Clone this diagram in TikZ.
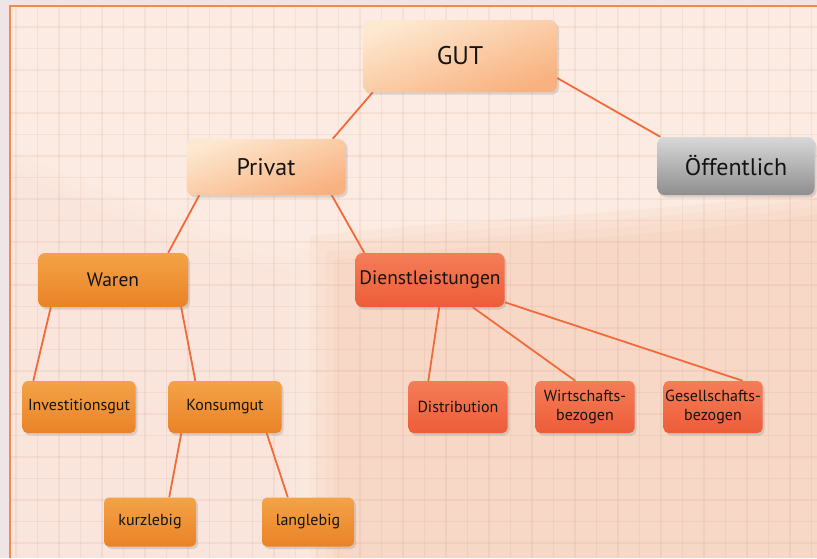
\documentclass[tikz,border=0pt]{standalone}
\usepackage{fontspec}
\setmainfont{PT Sans}
\usetikzlibrary{shadows, backgrounds}
\definecolor{gtframe}{HTML}{F5894A}
\definecolor{gtstrip}{HTML}{EFE4E6}
\definecolor{gtpaper}{HTML}{FCEBE2}
\definecolor{gtshade}{HTML}{F5C8AE}
\definecolor{gtgrid}{HTML}{B0603A}
\definecolor{gtline}{HTML}{F26A3A}
\definecolor{gtpeachA}{HTML}{FDE8D0}
\definecolor{gtpeachB}{HTML}{F9B17F}
\definecolor{gtgrayA}{HTML}{D8D8D8}
\definecolor{gtgrayB}{HTML}{8E8E8E}
\definecolor{gtorangeA}{HTML}{F3A347}
\definecolor{gtorangeB}{HTML}{EA8227}
\definecolor{gtredA}{HTML}{F47D58}
\definecolor{gtredB}{HTML}{EE5C38}
\definecolor{gttext}{HTML}{141414}

\begin{document}
\begin{tikzpicture}[
  x=1pt, y=-1pt,
  every node/.style={text=gttext},
  box/.style={rectangle, rounded corners=7pt, inner sep=0pt, align=center,
    drop shadow={shadow xshift=2pt, shadow yshift=-2.5pt, opacity=0.25}},
  peach/.style={box, top color=gtpeachA, bottom color=gtpeachB, shading angle=20},
  grey/.style={box, top color=gtgrayA, bottom color=gtgrayB},
  orange/.style={box, top color=gtorangeA, bottom color=gtorangeB},
  red/.style={box, top color=gtredA, bottom color=gtredB},
  small/.style={rounded corners=5pt, font=\fontsize{16}{18.5}\selectfont},
  link/.style={draw=gtline, line width=1.8pt},
  gridline/.style={draw=gtgrid, draw opacity=0.08, line width=1.1pt},
]
\useasboundingbox (0,0) rectangle (817,558);

% Paper and grid
\begin{scope}[on background layer]
\fill[gtstrip] (0,0) rectangle (817,558);
\fill[gtpaper] (10,6) rectangle (817,558);
\foreach \d in {0,8,16,24}
  \fill[gtshade, opacity=0.16] (310+\d,236+\d) .. controls (500+\d,215+\d) and (650,215+\d) .. (817,190+\d) -- (817,558) -- (310+\d,558) -- cycle;
\foreach \d in {0,10,20}
  \fill[gtshade, opacity=0.04] (10,150+\d) .. controls (120,200+\d) and (220,240+\d) .. (310-\d,250+\d) -- (310-\d,558) -- (10,558) -- cycle;
\foreach \gx in {16,37.5,...,817} \draw[gridline] (\gx,7) -- (\gx,558);
\foreach \gy in {27,48.5,...,558} \draw[gridline] (11,\gy) -- (817,\gy);
\draw[gtframe, line width=2.5pt] (10,558) -- (10,6) -- (817,6);
\end{scope}

% Nodes
\node[peach, minimum width=194, minimum height=72, font=\fontsize{25.5}{30}\selectfont] (gut) at (460,56) {GUT};
\node[peach, minimum width=159, minimum height=56, font=\fontsize{24}{28}\selectfont] (privat) at (266,167) {Privat};
\node[grey, minimum width=157, minimum height=58, font=\fontsize{24}{28}\selectfont] (oeff) at (736,166) {Öffentlich};
\node[orange, minimum width=150, minimum height=54, font=\fontsize{19.5}{23}\selectfont] (waren) at (113,280) {Waren};
\node[red, minimum width=149, minimum height=54, font=\fontsize{19.5}{23}\selectfont] (dienst) at (430,280) {Dienstleistungen};
\node[orange, small, minimum width=113, minimum height=52] (invest) at (79,407) {Investitionsgut};
\node[orange, small, minimum width=113, minimum height=52] (konsum) at (225,407) {Konsumgut};
\node[red, small, minimum width=99, minimum height=52] (distr) at (458,407) {Distribution};
\node[red, small, minimum width=99, minimum height=52] (wirt) at (585,407) {Wirtschafts-\\bezogen};
\node[red, small, minimum width=99, minimum height=52] (gesell) at (713,407) {Gesellschafts-\\bezogen};
\node[orange, small, minimum width=92, minimum height=49] (kurz) at (150,522) {kurzlebig};
\node[orange, small, minimum width=92, minimum height=49] (lang) at (308,522) {langlebig};

% Links
\begin{scope}[on background layer]
\draw[link] ([xshift=10pt]gut.south west) -- ([xshift=-13pt]privat.north east);
\draw[link] ([yshift=-22pt]gut.east) -- ([xshift=3pt]oeff.north west);
\draw[link] ([xshift=13pt]privat.south west) -- ([xshift=-20pt]waren.north east);
\draw[link] ([xshift=-14pt]privat.south east) -- ([xshift=9pt]dienst.north west);
\draw[link] ([xshift=13pt]waren.south west) -- ([xshift=11pt]invest.north west);
\draw[link] ([xshift=-7pt]waren.south east) -- ([xshift=27pt]konsum.north west);
\draw[link] ([xshift=13pt]konsum.south west) -- ([xshift=-27pt]kurz.north east);
\draw[link] ([xshift=-15pt]konsum.south east) -- ([xshift=26pt]lang.north west);
\draw[link] ([xshift=84pt]dienst.south west) -- ([xshift=20pt]distr.north west);
\draw[link] ([xshift=-32pt]dienst.south east) -- ([xshift=40pt]wirt.north west);
\draw[link] ([yshift=5pt]dienst.south east) -- ([xshift=-20pt]gesell.north east);
\end{scope}

\end{tikzpicture}
\end{document}
